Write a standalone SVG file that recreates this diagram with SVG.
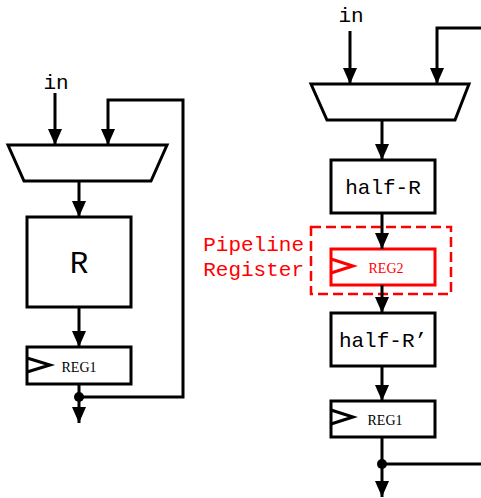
<svg xmlns="http://www.w3.org/2000/svg" width="481" height="498" viewBox="0 0 481 498">
  <style>
    .blk { fill: #fff; stroke: #000; stroke-width: 3; }
    .wire { fill: none; stroke: #000; stroke-width: 3; }
    .red { fill: #fff; stroke: #f00; stroke-width: 3; }
    .mono { font-family: "Liberation Mono", "Courier New", monospace; text-anchor: middle; }
    .reg { font-family: "Liberation Serif", "Times New Roman", serif; font-size: 14px; text-anchor: middle; }
  </style>
  <defs>
    <marker id="arrow" markerUnits="userSpaceOnUse" markerWidth="16" markerHeight="14" viewBox="0 0 16 14" refX="16" refY="7" orient="auto">
      <path d="M0,0 L16,7 L0,14 Z" fill="#000"/>
    </marker>
  </defs>

  <rect width="481" height="498" fill="#fff"/>

  <!-- Left: single-stage loop -->
  <g id="left-in">
    <text class="mono" x="56" y="89" font-size="21">in</text>
  </g>
  <g id="left-mux">
    <path class="blk" d="M8,145 L167,145 L151,181 L24,181 Z"/>
  </g>
  <g id="left-R">
    <rect class="blk" x="27" y="217" width="104" height="90"/>
    <text class="mono" x="79" y="273" font-size="31">R</text>
  </g>
  <g id="left-reg1">
    <rect class="blk" x="27" y="347" width="104" height="37"/>
    <path class="wire" d="M27,358 L50,365 L27,372"/>
    <text class="reg" x="79" y="372">REG1</text>
  </g>

  <!-- Right: two-stage pipeline -->
  <g id="right-in">
    <text class="mono" x="351" y="22" font-size="21">in</text>
  </g>
  <g id="right-mux">
    <path class="blk" d="M311,84 L469,84 L455,120 L327,120 Z"/>
  </g>
  <g id="half-R">
    <rect class="blk" x="331" y="160" width="104" height="53"/>
    <text class="mono" x="383" y="194" font-size="21">half-R</text>
  </g>
  <g id="pipeline-register">
    <rect x="311" y="227" width="140" height="67" fill="none" stroke="#f00" stroke-width="2.5" stroke-dasharray="10,5"/>
    <text font-family="'Liberation Mono', 'Courier New', monospace" font-size="21" fill="#f00" text-anchor="end" x="304" y="251">Pipeline</text>
    <text font-family="'Liberation Mono', 'Courier New', monospace" font-size="21" fill="#f00" text-anchor="end" x="304" y="276">Register</text>
  </g>
  <g id="reg2">
    <rect class="red" x="331" y="249" width="104" height="36"/>
    <path d="M331,259 L353,266 L331,273" fill="none" stroke="#f00" stroke-width="3"/>
    <text class="reg" x="386" y="273" fill="#f00">REG2</text>
  </g>
  <g id="half-R-prime">
    <rect class="blk" x="331" y="313" width="104" height="53"/>
    <text class="mono" x="383" y="347" font-size="21">half-R’</text>
  </g>
  <g id="right-reg1">
    <rect class="blk" x="331" y="401" width="104" height="36"/>
    <path class="wire" d="M331,410 L353,417 L331,424"/>
    <text class="reg" x="385" y="425">REG1</text>
  </g>

  <!-- Connectors -->
  <g id="connectors">
    <!-- left -->
    <line class="wire" x1="55" y1="93" x2="55" y2="145" marker-end="url(#arrow)"/>
    <path class="wire" d="M79,397 L183,397 L183,100 L108,100 L108,145" marker-end="url(#arrow)"/>
    <line class="wire" x1="79" y1="181" x2="79" y2="217" marker-end="url(#arrow)"/>
    <line class="wire" x1="79" y1="307" x2="79" y2="347" marker-end="url(#arrow)"/>
    <line class="wire" x1="79" y1="384" x2="79" y2="423" marker-end="url(#arrow)"/>
    <circle cx="79" cy="397" r="5" fill="#000"/>
    <!-- right -->
    <line class="wire" x1="350" y1="31" x2="350" y2="84" marker-end="url(#arrow)"/>
    <path class="wire" d="M484,28 L437,28 L437,84" marker-end="url(#arrow)"/>
    <line class="wire" x1="382" y1="120" x2="382" y2="160" marker-end="url(#arrow)"/>
    <line class="wire" x1="382" y1="213" x2="382" y2="249" marker-end="url(#arrow)"/>
    <line class="wire" x1="382" y1="285" x2="382" y2="313" marker-end="url(#arrow)"/>
    <line class="wire" x1="382" y1="366" x2="382" y2="401" marker-end="url(#arrow)"/>
    <line class="wire" x1="382" y1="437" x2="382" y2="497" marker-end="url(#arrow)"/>
    <line class="wire" x1="382" y1="464" x2="484" y2="464"/>
    <circle cx="382" cy="464" r="5" fill="#000"/>
  </g>
</svg>
